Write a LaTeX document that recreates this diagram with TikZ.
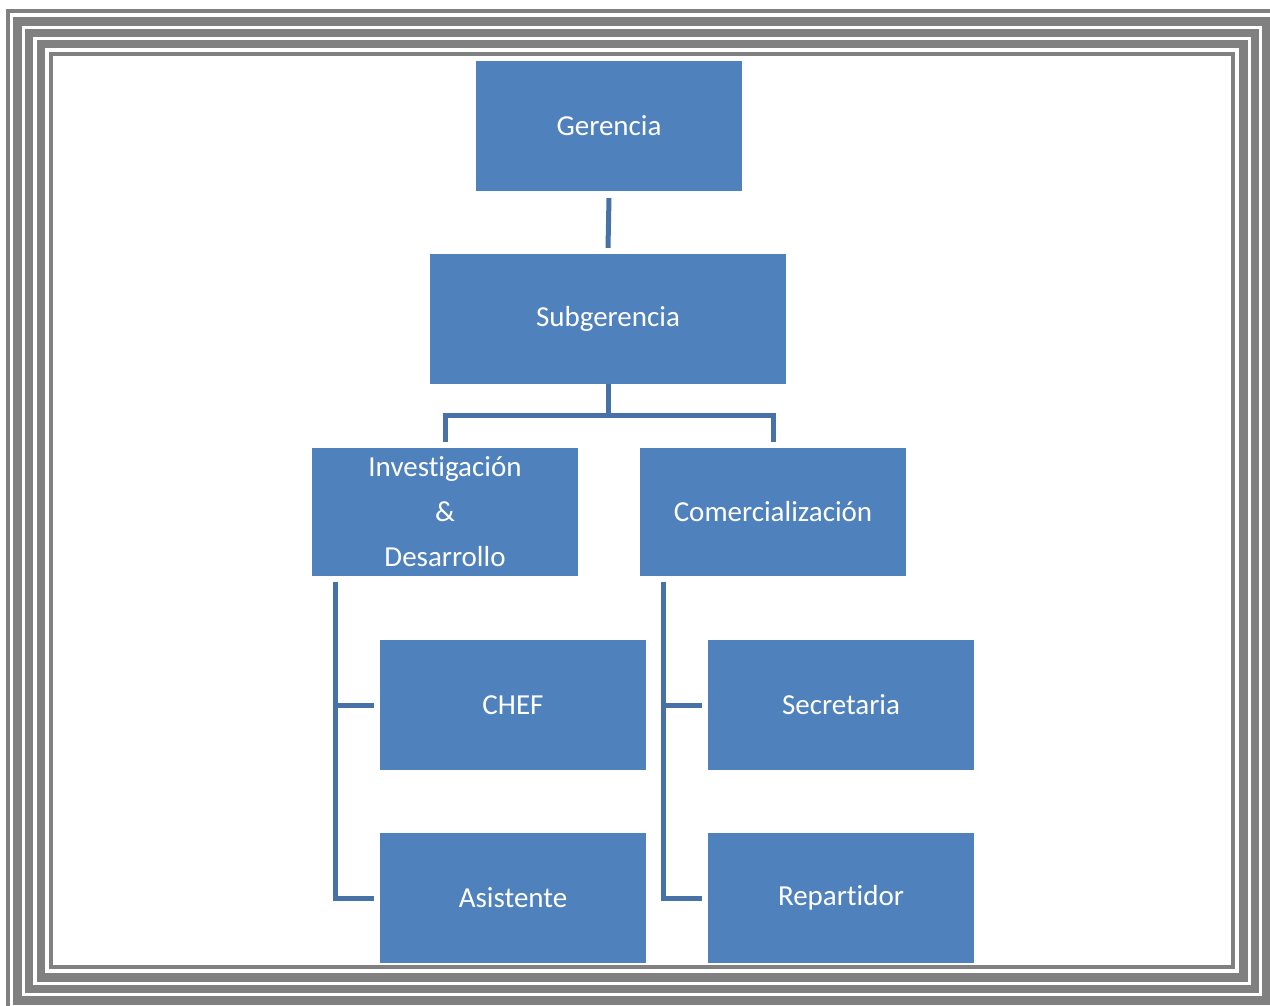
\documentclass[tikz,border=0pt]{standalone}
\usepackage{fontspec}
\setmainfont{Carlito}[Ligatures=NoCommon]
\definecolor{boxblue}{HTML}{4F81BD}
\definecolor{lineblue}{HTML}{4672A8}
\definecolor{framegray}{HTML}{808080}
\begin{document}
\begin{tikzpicture}[x=1pt,y=-1pt,
  orgbox/.style={fill=boxblue,draw=none,minimum width=266pt,minimum height=130pt,text=white,font=\fontsize{29}{45}\selectfont,align=center,inner sep=0pt},
  conn/.style={draw=lineblue,line width=5pt},
  framethin/.style={draw=framegray,line width=4pt},
  framethick/.style={draw=framegray,line width=8.5pt}]
\useasboundingbox (0,0) rectangle (1270,1005);
\fill[white] (0,0) rectangle (1270,1005);
% frame
\draw[framethin] (8,10.5) rectangle (1278,1012);
\draw[framethick] (17.5,21.5) rectangle (1266,1000.5);
\draw[framethick] (29,33) rectangle (1255,989);
\draw[framethick] (41,44) rectangle (1243.5,977.5);
\draw[framethin] (51,54) rectangle (1233,967);
% boxes
\node[orgbox] (ger) at (609,126) {Gerencia};
\node[orgbox,minimum width=356pt] (sub) at (608,319) {Subgerencia};
\node[orgbox,minimum height=128pt] (inv) at (445,512) {Investigación\\\&\\Desarrollo};
\node[orgbox,minimum height=128pt] (com) at (773,512) {Comercialización};
\node[orgbox] (chef) at (513,705) {CHEF};
\node[orgbox] (sec) at (841,705) {Secretaria};
\node[orgbox] (asi) at (513,898) {Asistente};
\node[orgbox] (rep) at (841,898) {Repartidor};
% connectors
\draw[conn] ([yshift=-7pt]ger.south) -- ([yshift=6pt]sub.north);
\coordinate (j1) at (608,415);
\draw[conn] (sub.south) -- (j1);
\draw[conn] ([yshift=6pt]inv.north) |- (j1) -| ([yshift=6pt]com.north);
\coordinate (lt) at (335.5,582);
\coordinate (rt) at (663.5,582);
\draw[conn] (lt) |- ([xshift=-6pt]asi.west);
\draw[conn] (lt |- chef.west) -- ([xshift=-6pt]chef.west);
\draw[conn] (rt) |- ([xshift=-6pt]rep.west);
\draw[conn] (rt |- sec.west) -- ([xshift=-6pt]sec.west);
\end{tikzpicture}
\end{document}
